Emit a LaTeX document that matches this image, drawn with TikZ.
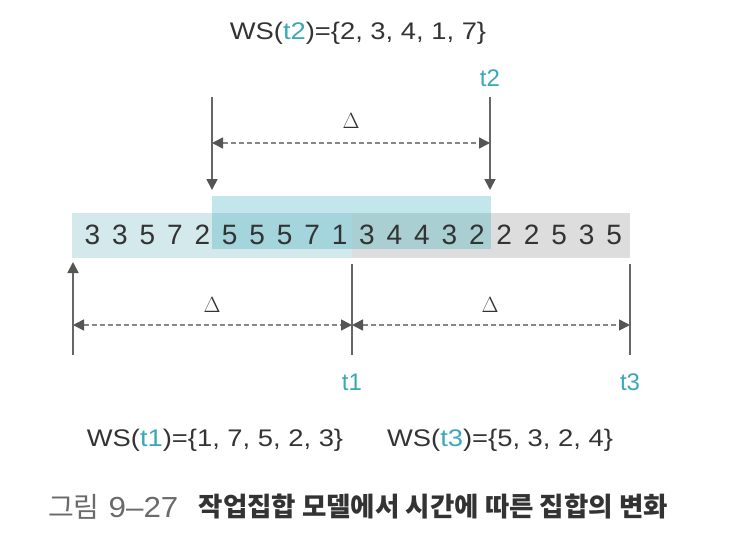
\documentclass[tikz,border=0pt]{standalone}
\usepackage{fontspec}
\setmainfont{Liberation Sans}
\newfontfamily\kr{Noto Sans CJK KR}
\newfontfamily\lmfont{Latin Modern Roman}
\usetikzlibrary{arrows.meta}
\definecolor{txt}{HTML}{333333}
\definecolor{tealtxt}{HTML}{3AA8B8}
\definecolor{linegray}{HTML}{666666}
\definecolor{tipgray}{HTML}{555555}
\definecolor{dashgray}{HTML}{858585}
\definecolor{bandteal}{HTML}{D3E9EC}
\definecolor{bandgray}{HTML}{DDDDDD}
\definecolor{wintop}{HTML}{C2E6EB}
\definecolor{winteal}{HTML}{A5D5DC}
\definecolor{wingray}{HTML}{A9CFD3}
\definecolor{capgray}{HTML}{6A6A6A}
\tikzset{
  digit/.style={inner sep=0pt, text=txt, font=\fontsize{28}{30}\selectfont},
  wslabel/.style={inner sep=0pt, text=txt, font=\fontsize{24}{28}\selectfont},
  tlabel/.style={inner sep=0pt, text=tealtxt, font=\fontsize{24}{28}\selectfont},
  deltalabel/.style={inner sep=0pt, text=txt, font=\lmfont\fontsize{22}{24}\selectfont},
  solidarr/.style={draw=linegray, line width=1.8pt, -{Triangle[length=11pt,width=11pt,color=tipgray]}},
  solidline/.style={draw=linegray, line width=1.8pt},
  dasharr/.style={draw=dashgray, line width=1.6pt, dash pattern=on 5pt off 3pt,
    {Triangle[length=11pt,width=11pt,color=tipgray]}-{Triangle[length=11pt,width=11pt,color=tipgray]}},
  captext/.style={inner sep=0pt, font=\kr\fontsize{28}{30}\selectfont},
}
\newcommand{\wstext}[1]{\scalebox{1.14}[1]{#1}}
\begin{document}
\begin{tikzpicture}[x=1pt,y=-1pt]
\useasboundingbox (0,0) rectangle (744,536);
% band and window
\fill[bandteal] (72,213) rectangle (352,258);
\fill[bandgray] (352,213) rectangle (630,258);
\fill[wintop] (212,196) rectangle (491,213);
\fill[winteal] (212,213) rectangle (352,249);
\fill[wingray] (352,213) rectangle (491,249);
% digits
\foreach \d [count=\i from 0] in {3,3,5,7,2,5,5,5,7,1,3,4,4,3,2,2,2,5,3,5}
  \node[digit] (d\i) at ({92.5+27.45*\i},235) {\d};
% coordinates
\coordinate (a0) at (73,355);
\coordinate (a0t) at (73,262);
\coordinate (t1top) at (352,264);
\coordinate (t1bot) at (352,355);
\coordinate (t3top) at (630,264);
\coordinate (t3bot) at (630,355);
\coordinate (l1) at (73,325);
\coordinate (l2) at (352,325);
\coordinate (l3) at (630,325);
\coordinate (u1top) at (212,97);
\coordinate (u1tip) at (212,190);
\coordinate (u2top) at (490,97);
\coordinate (u2tip) at (490,190);
\coordinate (m1) at (212,143);
\coordinate (m2) at (490,143);
% lower lines
\draw[solidarr] (a0) -- (a0t);
\draw[solidline] (t1top) -- (t1bot);
\draw[solidline] (t3top) -- (t3bot);
\draw[dasharr] (l1) -- (l2);
\draw[dasharr] (l2) -- (l3);
% upper lines
\draw[solidarr] (u1top) -- (u1tip);
\draw[solidarr] (u2top) -- (u2tip);
\draw[dasharr] (m1) -- (m2);
% deltas
\node[deltalabel] (dl1) at (212,305) {Δ};
\node[deltalabel] (dl2) at (490,305) {Δ};
\node[deltalabel] (dl3) at (351,121) {Δ};
% t labels
\node[tlabel] (t1) at (352,382) {t1};
\node[tlabel] (t3) at (630,382) {t3};
\node[tlabel] (t2) at (490,78) {t2};
% WS labels
\node[wslabel] (ws2) at (358,33) {\wstext{WS(\textcolor{tealtxt}{t2})=\{2, 3, 4, 1, 7\}}};
\node[wslabel] (ws1) at (215,440) {\wstext{WS(\textcolor{tealtxt}{t1})=\{1, 7, 5, 2, 3\}}};
\node[wslabel] (ws3) at (500,440) {\wstext{WS(\textcolor{tealtxt}{t3})=\{5, 3, 2, 4\}}};
% caption
\node[captext, anchor=west, text=capgray] (capnum) at (48,507)
  {그림\hspace{9pt}{\rmfamily\fontsize{29}{30}\selectfont\scalebox{1.08}[1]{9–27}}};
\node[captext, anchor=east, text=txt, font=\kr\bfseries\fontsize{26.5}{30}\selectfont] (captitle) at (668,507)
  {작업집합 모델에서 시간에 따른 집합의 변화};
\end{tikzpicture}
\end{document}
